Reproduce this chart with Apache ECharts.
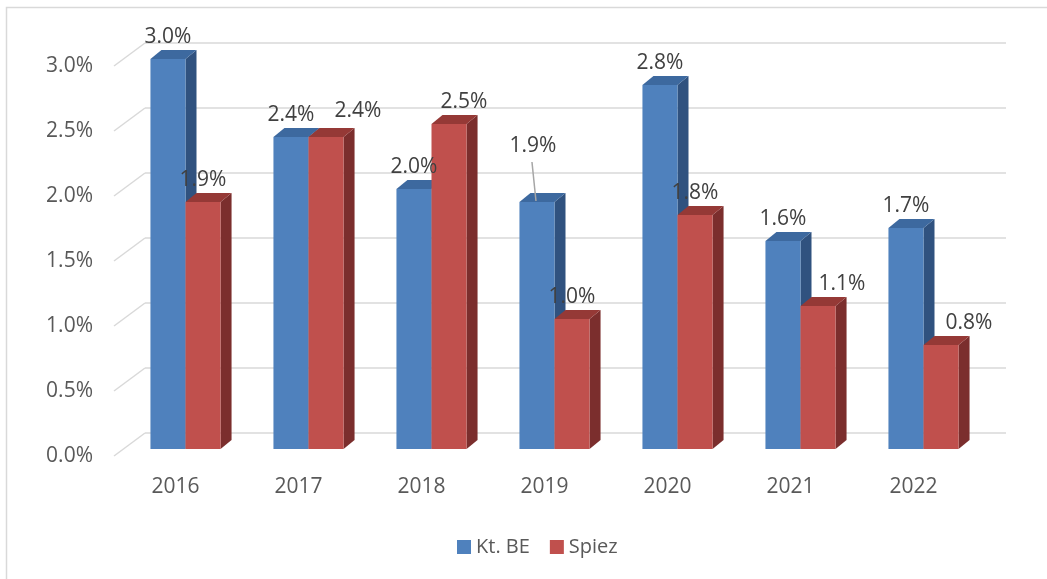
<!DOCTYPE html>
<html>
<head>
<meta charset="utf-8">
<script src="https://cdn.jsdelivr.net/npm/echarts@6/dist/echarts.min.js"></script>
<style>
  html, body { margin: 0; padding: 0; background: #fff; }
  #chart { width: 1047px; height: 579px; }
</style>
</head>
<body>
<div id="chart"></div>
<script>
// values (percent)
const years = ['2016', '2017', '2018', '2019', '2020', '2021', '2022']
const ktBE = [3.0, 2.4, 2.0, 1.9, 2.8, 1.6, 1.7]
const spiez = [1.9, 2.4, 2.5, 1.0, 1.8, 1.1, 0.8]
const yTicks = [0, 0.5, 1.0, 1.5, 2.0, 2.5, 3.0]

// fake 3D: depth of the floor/wall and of each bar, in px
const WALL_DX = 31, WALL_DY = -23
const BAR_DX = 11, BAR_DY = -9
const FONT = '"Open Sans", "Noto Sans", sans-serif'

// labels that were dragged by hand in the original: [dx, dy] per year
const labelNudge = {
  'Kt. BE': { 3: [-4, -34] },
  'Spiez': { 1: [32, -4], 2: [15, 0], 5: [24, 0], 6: [28, 0] }
}

const blue = { front: '#4F81BD', top: '#3D699F', side: '#30527F' }
const red = { front: '#C0504D', top: '#953936', side: '#7B2E2D' }

function barRenderer(side, col, name) {
  return (params, api) => {
    const i = api.value(0)
    const v = api.value(1)
    const base = api.coord([i, 0])
    const top = api.coord([i, v])
    const w = api.size([1, 0])[0] * 0.285
    const x0 = side < 0 ? base[0] - w : base[0]
    const x1 = x0 + w
    const y0 = base[1]
    const y1 = top[1]
    const cx = (x0 + x1) / 2
    const nudge = (labelNudge[name] && labelNudge[name][i]) || [0, 0]
    const lx = cx + nudge[0]
    const ly = y1 - 22 + nudge[1]

    const children = [
      { type: 'polygon', shape: { points: [[x1, y1], [x1 + BAR_DX, y1 + BAR_DY], [x1 + BAR_DX, y0 + BAR_DY], [x1, y0]] }, style: { fill: col.side } },
      { type: 'polygon', shape: { points: [[x0, y1], [x0 + BAR_DX, y1 + BAR_DY], [x1 + BAR_DX, y1 + BAR_DY], [x1, y1]] }, style: { fill: col.top } },
      { type: 'rect', shape: { x: x0, y: y1, width: w, height: y0 - y1 }, style: { fill: col.front } },
      {
        type: 'text',
        style: {
          x: lx, y: ly,
          text: v.toFixed(1) + '%',
          align: 'center', verticalAlign: 'middle',
          fill: '#404040', font: '21px ' + FONT
        },
        z2: 10
      }
    ]
    // a label pulled far from its bar gets a leader line, as in Excel
    if (nudge[1] < -20) {
      children.push({
        type: 'line',
        shape: { x1: lx - 1, y1: ly + 16, x2: cx - 1, y2: y1 - 1 },
        style: { stroke: '#A6A6A6', lineWidth: 1.5 },
        z2: 10
      })
    }
    return { type: 'group', children }
  }
}

const chart = echarts.init(document.getElementById('chart'), null, { renderer: 'canvas' })

chart.setOption({
  animation: false,
  backgroundColor: '#fff',
  graphic: [{
    type: 'rect',
    shape: { x: 6.5, y: 7.5, width: 1200, height: 700 },
    style: { fill: 'none', stroke: '#D9D9D9', lineWidth: 1.5 },
    silent: true
  }],
  legend: {
    data: ['Kt. BE', 'Spiez'],
    left: 452,
    top: 532,
    icon: 'rect',
    itemWidth: 14,
    itemHeight: 14,
    itemGap: 20,
    textStyle: { fontSize: 20, color: '#595959', fontFamily: FONT }
  },
  grid: [
    // front edge of the floor: axis labels and slanted floor lines
    { left: 114, top: 66, width: 861, height: 390 },
    // plane the bars stand on
    { left: 124, top: 59, width: 861, height: 390 },
    // back wall
    { left: 145, top: 43, width: 861, height: 390 }
  ],
  xAxis: [
    {
      gridIndex: 0, type: 'category', data: years,
      axisLine: { show: false }, axisTick: { show: false },
      axisLabel: { margin: 21, fontSize: 21, color: '#595959', fontFamily: FONT }
    },
    { gridIndex: 1, type: 'category', data: years, show: false },
    { gridIndex: 2, type: 'category', data: years, show: false }
  ],
  yAxis: [
    {
      gridIndex: 0, type: 'value', min: 0, max: 3, interval: 0.5,
      axisLine: { show: false }, axisTick: { show: false }, splitLine: { show: false },
      axisLabel: {
        margin: 21, fontSize: 21, color: '#595959', fontFamily: FONT,
        padding: [4, 0, 0, 0],
        formatter: v => v.toFixed(1) + '%'
      }
    },
    { gridIndex: 1, type: 'value', min: 0, max: 3, interval: 0.5, show: false },
    {
      gridIndex: 2, type: 'value', min: 0, max: 3, interval: 0.5,
      axisLine: { show: false }, axisTick: { show: false }, axisLabel: { show: false },
      splitLine: { show: true, lineStyle: { color: '#D9D9D9', width: 1.5 } }
    }
  ],
  series: [
    {
      type: 'custom',
      silent: true,
      xAxisIndex: 0, yAxisIndex: 0,
      data: yTicks.map(v => [0, v]),
      renderItem: (params, api) => {
        const p = api.coord([0, api.value(1)])
        const left = p[0] - api.size([1, 0])[0] / 2
        return {
          type: 'line',
          shape: { x1: left, y1: p[1], x2: left + WALL_DX, y2: p[1] + WALL_DY },
          style: { stroke: '#D9D9D9', lineWidth: 1.5 }
        }
      }
    },
    {
      name: 'Kt. BE',
      type: 'custom',
      xAxisIndex: 1, yAxisIndex: 1,
      itemStyle: { color: blue.front },
      data: ktBE.map((v, i) => [i, v]),
      renderItem: barRenderer(-1, blue, 'Kt. BE')
    },
    {
      name: 'Spiez',
      type: 'custom',
      xAxisIndex: 1, yAxisIndex: 1,
      itemStyle: { color: red.front },
      data: spiez.map((v, i) => [i, v]),
      renderItem: barRenderer(1, red, 'Spiez')
    }
  ]
})
</script>
</body>
</html>
